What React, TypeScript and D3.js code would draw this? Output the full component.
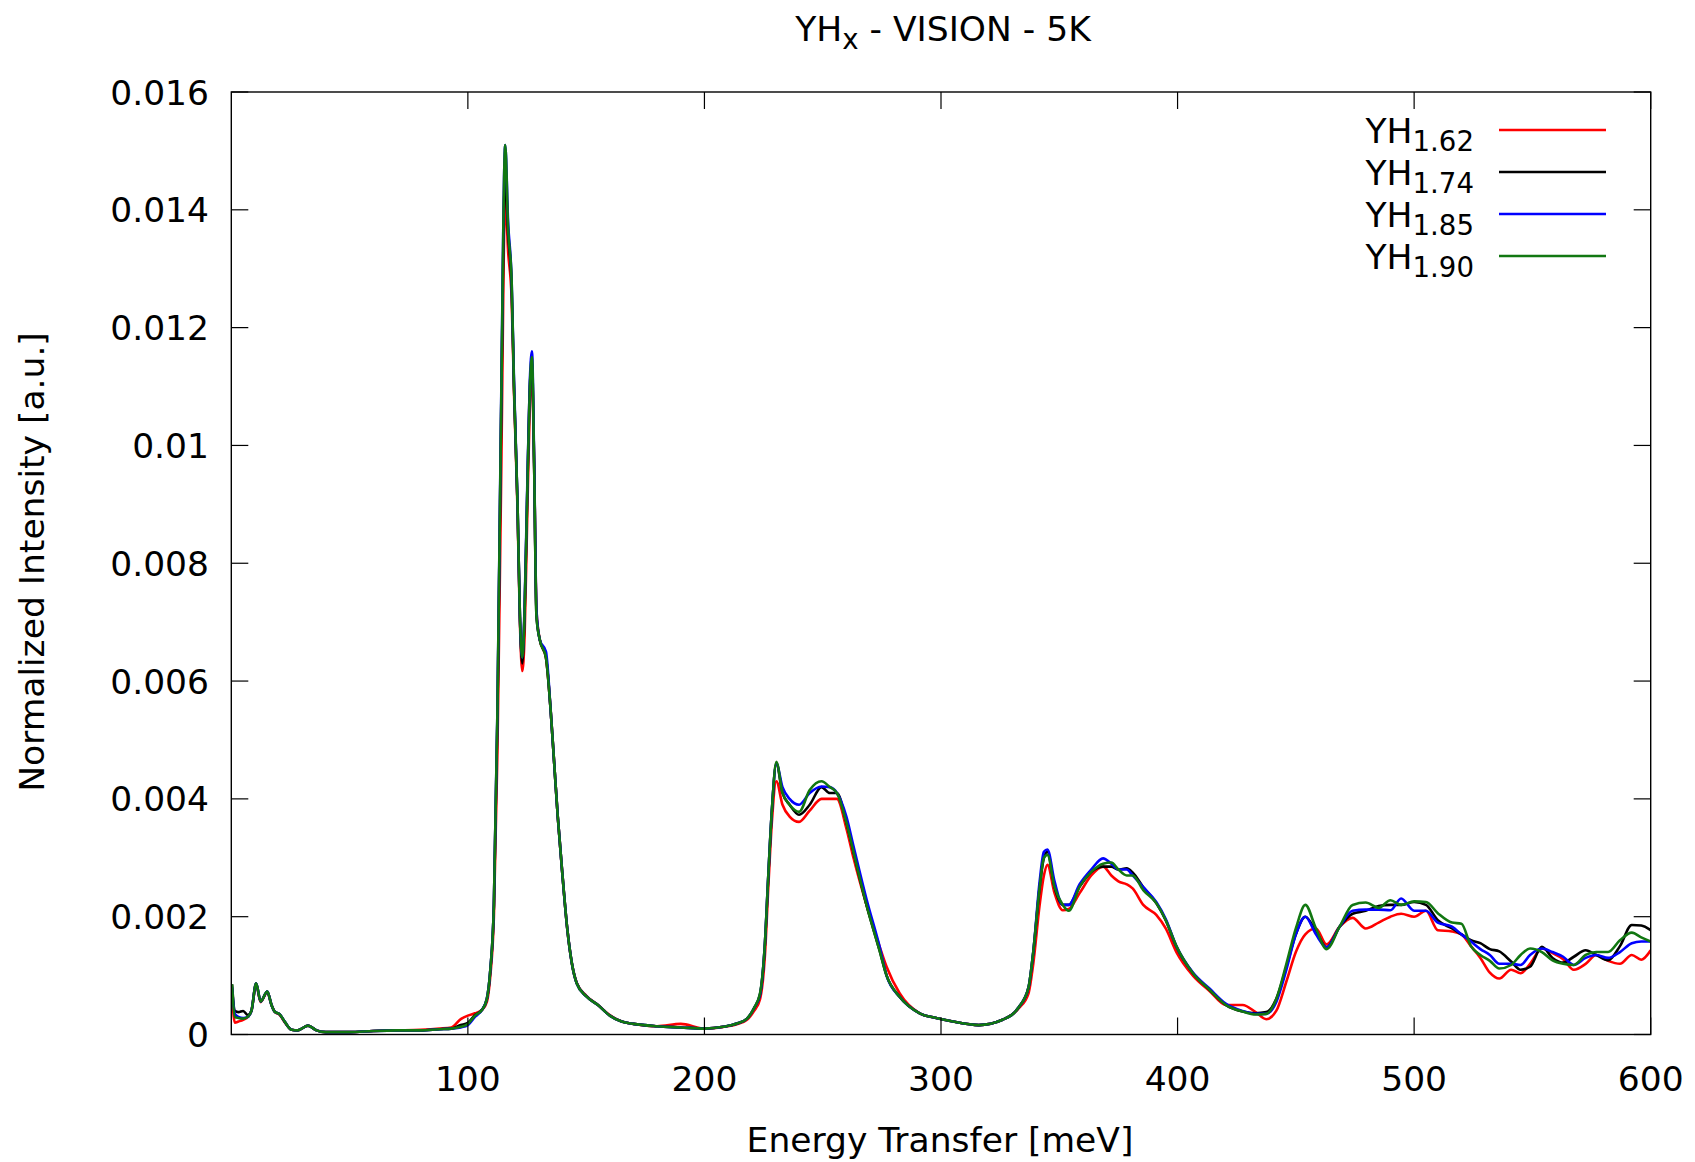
import React from "react";
import * as d3 from "d3";

// Energy transfer grid [meV]
const energy = [
  0.3, 1.5, 3, 5, 7, 8.5, 10.5, 12.4, 15.2, 17,
  18.5, 20.3, 22.7, 25.5, 28, 32.4, 36, 40, 50, 60,
  70, 80, 88, 93, 97, 100, 103, 106, 108, 109.5,
  111, 112.5, 114, 115.8, 117, 118.5, 119.5, 121, 122, 123,
  124, 125, 126.2, 127.1, 128, 129, 130.4, 133, 135, 136.5,
  138, 140, 142, 144, 146, 150, 155, 160, 165, 170,
  180, 190, 200, 208, 214, 218, 221, 223.5, 225.5, 227,
  228.5, 230.4, 233, 236, 240, 244.5, 249.5, 253, 256, 260,
  263, 268.5, 274, 277, 282.5, 291, 298, 305, 316, 326,
  333, 337, 339, 341.7, 343.5, 345, 348, 351.5, 354, 358.6,
  363.5, 368.5, 372, 375, 378.5, 381, 385.5, 391, 395, 399.5,
  406.5, 413.5, 420.5, 427.5, 433, 437.5, 441.7, 446, 450, 454,
  458.5, 463, 468.5, 474, 479.5, 485, 490, 494.5, 500, 505,
  510, 516, 520, 524, 528, 532, 536, 541, 545, 549,
  554, 558.5, 563, 567.5, 572.5, 577, 582, 587, 592, 596,
  600,
];

const yh162 = [
  0.0007, 0.0002, 0.00022, 0.00025, 0.0003, 0.0004, 0.00085, 0.00055, 0.00072, 0.0005,
  0.00038, 0.00034, 0.0002, 0.00008, 0.00007, 0.00015, 0.00007, 0.00004, 0.00004, 0.00006,
  0.00007, 0.00008, 0.0001, 0.00012, 0.00026, 0.00032, 0.00036, 0.00042, 0.00055, 0.001,
  0.002, 0.0048, 0.0092, 0.0142, 0.0133, 0.0125, 0.0109, 0.0089, 0.007, 0.00617,
  0.0068, 0.0086, 0.0107, 0.0112, 0.0097, 0.0072, 0.0067, 0.0064, 0.0055, 0.0046,
  0.0037, 0.0027, 0.0018, 0.0012, 0.00088, 0.00066, 0.0005, 0.00033, 0.00022, 0.00018,
  0.00014, 0.00018, 0.0001, 0.00013, 0.00018, 0.00025, 0.0004, 0.0006, 0.0013, 0.0025,
  0.0036, 0.0043, 0.0039, 0.0037, 0.00361, 0.0038, 0.004, 0.004, 0.004, 0.0035,
  0.003, 0.0022, 0.0015, 0.00115, 0.0007, 0.00036, 0.00028, 0.00022, 0.00016, 0.00025,
  0.00045, 0.0007, 0.0012, 0.0022, 0.0027, 0.00288, 0.0024, 0.00211, 0.00213, 0.0024,
  0.0027, 0.00285, 0.0027, 0.0026, 0.00255, 0.00248, 0.0022, 0.00203, 0.0018, 0.0014,
  0.001, 0.00074, 0.0005, 0.0005, 0.00038, 0.00026, 0.0004, 0.0009, 0.0014, 0.0017,
  0.0018, 0.00153, 0.00183, 0.00198, 0.0018, 0.0019, 0.002, 0.00205, 0.002, 0.0021,
  0.00177, 0.00175, 0.0017, 0.0015, 0.0013, 0.00105, 0.00095, 0.0011, 0.00104, 0.0012,
  0.00146, 0.00138, 0.00128, 0.0011, 0.0012, 0.00135, 0.00125, 0.0012, 0.00135, 0.00127,
  0.00143,
];

const yh174 = [
  0.00085, 0.0004, 0.00038, 0.0004, 0.00033, 0.0004, 0.00087, 0.00056, 0.00073, 0.0005,
  0.00038, 0.00035, 0.00021, 0.00008, 0.00007, 0.00015, 0.00007, 0.00004, 0.00004, 0.00006,
  0.00007, 0.00007, 0.00009, 0.0001, 0.00016, 0.0002, 0.00033, 0.00042, 0.0006, 0.0011,
  0.0022, 0.0054, 0.0103, 0.0146, 0.0136, 0.0127, 0.011, 0.009, 0.0071, 0.0063,
  0.0072, 0.009, 0.011, 0.0114, 0.0097, 0.0071, 0.0067, 0.0064, 0.0055, 0.0046,
  0.0037, 0.0027, 0.0018, 0.0012, 0.00087, 0.00065, 0.0005, 0.00032, 0.00022, 0.00018,
  0.00014, 0.00012, 0.0001, 0.00013, 0.00019, 0.00027, 0.00045, 0.00068, 0.0015, 0.0027,
  0.0038, 0.0046, 0.0041, 0.0039, 0.00373, 0.0039, 0.0042, 0.0041, 0.0041, 0.0036,
  0.0031, 0.0022, 0.00143, 0.001, 0.00064, 0.00036, 0.00028, 0.00022, 0.00016, 0.00025,
  0.00047, 0.0008, 0.0014, 0.0025, 0.003, 0.0031, 0.0025, 0.0022, 0.0022, 0.00251,
  0.00276, 0.00285, 0.00285, 0.0028, 0.00282, 0.00275, 0.0025, 0.00223, 0.00194, 0.00149,
  0.00104, 0.00076, 0.0005, 0.00039, 0.00036, 0.00038, 0.0006, 0.00115, 0.0017, 0.002,
  0.00175, 0.00148, 0.00183, 0.00205, 0.0021, 0.00218, 0.0022, 0.0022, 0.00225, 0.0022,
  0.00194, 0.0018, 0.0017, 0.0016, 0.00155, 0.00145, 0.00141, 0.00124, 0.0011, 0.00115,
  0.00149, 0.0013, 0.00122, 0.00132, 0.00143, 0.00135, 0.00126, 0.0015, 0.00186, 0.00185,
  0.00177,
];

const yh185 = [
  0.0008, 0.00035, 0.0003, 0.00028, 0.0003, 0.0004, 0.00087, 0.00056, 0.00073, 0.0005,
  0.00038, 0.00035, 0.00021, 0.00008, 0.00007, 0.00015, 0.00007, 0.00004, 0.00004, 0.00006,
  0.00007, 0.00007, 0.00009, 0.0001, 0.00012, 0.00016, 0.0003, 0.00042, 0.0006, 0.0011,
  0.0022, 0.0055, 0.0105, 0.0151, 0.0138, 0.0128, 0.0111, 0.009, 0.0071, 0.0064,
  0.0073, 0.0091, 0.0111, 0.0116, 0.0098, 0.0072, 0.0067, 0.0065, 0.0055, 0.0046,
  0.0037, 0.0027, 0.0018, 0.0012, 0.00087, 0.00065, 0.0005, 0.00032, 0.00022, 0.00018,
  0.00014, 0.00012, 0.0001, 0.00013, 0.00019, 0.00027, 0.00045, 0.00068, 0.0015, 0.0027,
  0.0038, 0.0046, 0.0042, 0.004, 0.0039, 0.0041, 0.00421, 0.0042, 0.0041, 0.0037,
  0.0032, 0.0023, 0.0015, 0.001, 0.00064, 0.00036, 0.00028, 0.00022, 0.00016, 0.00025,
  0.00047, 0.0008, 0.0014, 0.0026, 0.0031, 0.00314, 0.0026, 0.0022, 0.0022, 0.00255,
  0.0028, 0.00299, 0.0029, 0.0028, 0.0028, 0.0027, 0.0025, 0.00225, 0.00196, 0.0015,
  0.00105, 0.00078, 0.00052, 0.0004, 0.00035, 0.00035, 0.00055, 0.0011, 0.0017, 0.002,
  0.0017, 0.00148, 0.00183, 0.0021, 0.00212, 0.00212, 0.00211, 0.00231, 0.0021, 0.0021,
  0.0019, 0.00183, 0.0017, 0.00158, 0.00145, 0.00135, 0.0012, 0.0012, 0.00118, 0.00135,
  0.00146, 0.0014, 0.00132, 0.00118, 0.0013, 0.00135, 0.0013, 0.0014, 0.00155, 0.00158,
  0.00158,
];

const yh190 = [
  0.00085, 0.0003, 0.00028, 0.00027, 0.0003, 0.0004, 0.00087, 0.00056, 0.00073, 0.0005,
  0.00038, 0.00035, 0.00021, 0.00008, 0.00007, 0.00015, 0.00007, 0.00004, 0.00004, 0.00006,
  0.00007, 0.00007, 0.00009, 0.0001, 0.00013, 0.00018, 0.00032, 0.00042, 0.0006, 0.0011,
  0.0022, 0.0055, 0.0104, 0.0151, 0.0137, 0.0128, 0.011, 0.009, 0.0071, 0.0064,
  0.0072, 0.009, 0.011, 0.0115, 0.0097, 0.0071, 0.0067, 0.0064, 0.0055, 0.0046,
  0.0037, 0.0027, 0.0018, 0.0012, 0.00087, 0.00065, 0.0005, 0.00032, 0.00022, 0.00018,
  0.00014, 0.00012, 0.0001, 0.00013, 0.00019, 0.00027, 0.00045, 0.0007, 0.0015, 0.0027,
  0.0038, 0.00463, 0.0041, 0.0039, 0.00378, 0.00415, 0.0043, 0.0042, 0.0041, 0.0036,
  0.0031, 0.0022, 0.00143, 0.001, 0.00064, 0.00036, 0.00028, 0.00022, 0.00016, 0.00025,
  0.00047, 0.0008, 0.0014, 0.0025, 0.003, 0.00305, 0.0025, 0.0022, 0.0021, 0.00251,
  0.00276, 0.0029, 0.00292, 0.0028, 0.0027, 0.0027, 0.00245, 0.00223, 0.00194, 0.0015,
  0.00104, 0.00076, 0.0005, 0.00039, 0.00034, 0.00035, 0.0006, 0.0012, 0.0018, 0.0022,
  0.0018, 0.00145, 0.00183, 0.0022, 0.00224, 0.00215, 0.00228, 0.0022, 0.00226, 0.00225,
  0.00206, 0.0019, 0.00188, 0.0015, 0.00135, 0.00125, 0.00112, 0.00118, 0.00135, 0.00146,
  0.0014, 0.00126, 0.0012, 0.00118, 0.00135, 0.0014, 0.0014, 0.0016, 0.00173, 0.00165,
  0.00158,
];

const seriesSub = ["1.62", "1.74", "1.85", "1.90"];
const seriesColors = ["#ff0000", "#000000", "#0000ff", "#117711"];
const seriesValues = [yh162, yh174, yh185, yh190];

const xTicks = [100, 200, 300, 400, 500, 600];
const yTicks = [0, 0.002, 0.004, 0.006, 0.008, 0.01, 0.012, 0.014, 0.016];
const yTickLabels = ["0", "0.002", "0.004", "0.006", "0.008", "0.01", "0.012", "0.014", "0.016"];

const W = 1695;
const H = 1162;
const left = 231.3;
const right = 1650.7;
const top = 92;
const bottom = 1034.5;
const FONT = "'DejaVu Sans', sans-serif";
const FS = 34.5;

export default function App() {
  const x = d3.scaleLinear().domain([0, 600]).range([left, right]);
  const y = d3.scaleLinear().domain([0, 0.016]).range([bottom, top]);
  const line = d3
    .line<number>()
    .x((_, i) => x(energy[i]))
    .y((d) => y(d))
    .curve(d3.curveMonotoneX);
  const tickLen = 17;

  return (
    <svg
      width={W}
      height={H}
      style={{ position: "absolute", left: 0, top: 0, display: "block", background: "#fff" }}
      fontFamily={FONT}
    >
      <rect x={0} y={0} width={W} height={H} fill="#fff" />
      <defs>
        <clipPath id="plotclip">
          <rect x={left} y={top} width={right - left} height={bottom - top} />
        </clipPath>
      </defs>

      {/* title */}
      <text x={943} y={41} textAnchor="middle" fontSize={FS} fill="#000">
        YH<tspan fontSize={FS * 0.8} dy={8}>x</tspan>
        <tspan dy={-8}> - VISION - 5K</tspan>
      </text>

      {/* series */}
      <g clipPath="url(#plotclip)">
        {seriesValues.map((vals, k) => (
          <path
            key={k}
            d={line(vals) || ""}
            fill="none"
            stroke={seriesColors[k]}
            strokeWidth={2.6}
            strokeLinejoin="round"
          />
        ))}
      </g>

      {/* ticks */}
      <g stroke="#000" strokeWidth={1.2}>
        {xTicks.map((t) => (
          <g key={"xt" + t}>
            <line x1={x(t)} x2={x(t)} y1={bottom} y2={bottom - tickLen} />
            <line x1={x(t)} x2={x(t)} y1={top} y2={top + tickLen} />
          </g>
        ))}
        {yTicks.map((t) => (
          <g key={"yt" + t}>
            <line x1={left} x2={left + tickLen} y1={y(t)} y2={y(t)} />
            <line x1={right} x2={right - tickLen} y1={y(t)} y2={y(t)} />
          </g>
        ))}
      </g>

      {/* frame */}
      <rect
        x={left}
        y={top}
        width={right - left}
        height={bottom - top}
        fill="none"
        stroke="#000"
        strokeWidth={1.4}
      />

      {/* tick labels */}
      {xTicks.map((t) => (
        <text key={"xl" + t} x={x(t)} y={1091} textAnchor="middle" fontSize={FS} fill="#000">
          {t}
        </text>
      ))}
      {yTicks.map((t, i) => (
        <text
          key={"yl" + t}
          x={209}
          y={y(t) + 12.5}
          textAnchor="end"
          fontSize={FS}
          fill="#000"
        >
          {yTickLabels[i]}
        </text>
      ))}

      {/* axis labels */}
      <text x={940} y={1152} textAnchor="middle" fontSize={FS} fill="#000">
        Energy Transfer [meV]
      </text>
      <text
        transform={`translate(${44},${562}) rotate(-90)`}
        textAnchor="middle"
        fontSize={FS}
        fill="#000"
      >
        Normalized Intensity [a.u.]
      </text>

      {/* legend */}
      {seriesSub.map((s, k) => {
        const ly = 130 + k * 42;
        return (
          <g key={"lg" + k}>
            <text x={1474} y={ly + 12.5} textAnchor="end" fontSize={FS} fill="#000">
              YH<tspan fontSize={FS * 0.8} dy={8.5}>{s}</tspan>
            </text>
            <line x1={1499} x2={1606} y1={ly} y2={ly} stroke={seriesColors[k]} strokeWidth={2.6} />
          </g>
        );
      })}
    </svg>
  );
}
